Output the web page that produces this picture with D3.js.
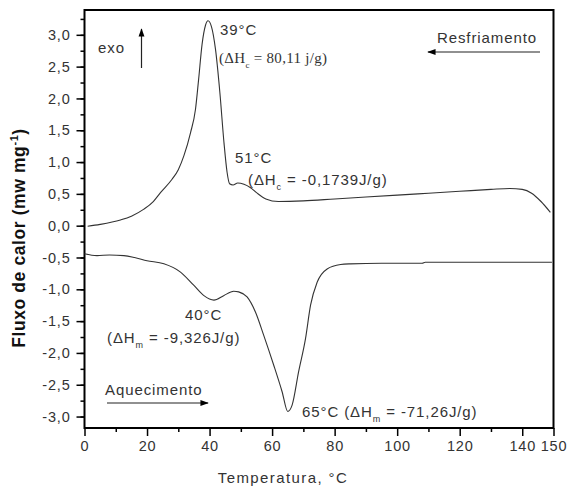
<!DOCTYPE html>
<html>
<head>
<meta charset="utf-8">
<script src="https://cdn.jsdelivr.net/npm/d3@7"></script>
<style>
  body { margin: 0; background: #fff; }
  svg { display: block; font-family: "Liberation Sans", Arial, sans-serif; }
  .tick text { font-size: 14.5px; fill: #333; }
  .ann { font-size: 15px; fill: #333; letter-spacing: 0.9px; }
  .serif { font-family: "Liberation Serif", "Times New Roman", serif; letter-spacing: 0.3px; }
</style>
</head>
<body>
<div id="chart"></div>
<script>
// Resfriamento (cooling) curve: temperature (°C), heat flow (mW/mg)
const coolT = [1, 5, 11.5, 15, 19, 22, 24.3, 28, 30, 31.8, 33.9, 35.5, 36.5, 37.6, 38.7, 39.5,
  40.6, 41.9, 43.3, 44.6, 45.6, 46.4, 47.5, 49, 51, 53, 55, 58, 62, 70, 80, 90, 100, 110, 120,
  130, 136, 140, 143, 146, 149];
const coolV = [-0.01, 0.02, 0.09, 0.15, 0.26, 0.38, 0.52, 0.73, 0.88, 1.10, 1.46, 1.83, 2.30, 2.85, 3.15, 3.22,
  3.13, 2.77, 2.09, 1.31, 0.84, 0.66, 0.64, 0.67, 0.65, 0.60, 0.52, 0.42, 0.38, 0.39, 0.42, 0.45, 0.48, 0.51, 0.54,
  0.57, 0.585, 0.57, 0.51, 0.38, 0.21];

// Aquecimento (heating) curve
const heatT = [0, 4, 8, 12.6, 16, 20, 25.4, 30.7, 35, 38.2, 41.4, 44.5, 47.7, 49.3, 52, 54.7, 57.3,
  60.5, 63.2, 65, 66.4, 68.5, 70.7, 72.3, 74.4, 77.6, 81.9, 85, 95, 108, 109, 120, 135, 149.5];
const heatV = [-0.44, -0.47, -0.46, -0.47, -0.50, -0.55, -0.60, -0.73, -0.94, -1.10, -1.17, -1.10, -1.03, -1.04, -1.12, -1.36, -1.72,
  -2.19, -2.61, -2.92, -2.82, -2.29, -1.77, -1.25, -0.89, -0.68, -0.61, -0.60, -0.59, -0.59, -0.575, -0.575, -0.575, -0.575];

const xTicks = [0, 20, 40, 60, 80, 100, 120, 140, 150];
const xMinor = [10, 30, 50, 70, 90, 110, 130];
const yTicks = [-3, -2.5, -2, -1.5, -1, -0.5, 0, 0.5, 1, 1.5, 2, 2.5, 3];
const yMinor = d3.range(-3, 3.3, 0.25);

const width = 573, height = 488;
const svg = d3.select("#chart").append("svg")
  .attr("width", width)
  .attr("height", height);

const x = d3.scaleLinear().domain([0, 150]).range([84.5, 553.5]);
const y = d3.scaleLinear().domain([-3.18, 3.39]).range([428, 10]);

const fmt = d => d3.format(".1f")(d).replace(".", ",").replace("−", "-");

// minor ticks
svg.append("g")
  .attr("transform", "translate(0,428)")
  .call(d3.axisBottom(x).tickValues(xMinor).tickSize(4).tickFormat(""))
  .call(g => g.select(".domain").remove())
  .selectAll("line").attr("stroke", "#000").attr("stroke-width", 1.5);

svg.append("g")
  .attr("transform", "translate(84.5,0)")
  .call(d3.axisLeft(y).tickValues(yMinor).tickSize(4).tickFormat(""))
  .call(g => g.select(".domain").remove())
  .selectAll("line").attr("stroke", "#000").attr("stroke-width", 1.5);

// major ticks + labels
svg.append("g")
  .attr("transform", "translate(0,428)")
  .call(d3.axisBottom(x).tickValues(xTicks).tickSize(8).tickPadding(5).tickFormat(d3.format("d")))
  .call(g => g.select(".domain").remove())
  .call(g => g.selectAll("line").attr("stroke", "#000").attr("stroke-width", 1.5));

svg.append("g")
  .attr("transform", "translate(84.5,0)")
  .call(d3.axisLeft(y).tickValues(yTicks).tickSize(8).tickPadding(6).tickFormat(fmt))
  .call(g => g.select(".domain").remove())
  .call(g => g.selectAll("line").attr("stroke", "#000").attr("stroke-width", 1.5));

svg.selectAll(".tick text").attr("fill", "#333").style("letter-spacing", "0.8px");

// frame
svg.append("rect")
  .attr("x", x(0)).attr("y", y(3.39))
  .attr("width", x(150) - x(0)).attr("height", y(-3.18) - y(3.39))
  .attr("fill", "none").attr("stroke", "#000").attr("stroke-width", 2);

// curves
const line = d3.line()
  .x(d => x(d[0]))
  .y(d => y(d[1]))
  .curve(d3.curveMonotoneX);

svg.append("path")
  .datum(d3.zip(coolT, coolV))
  .attr("d", line)
  .attr("fill", "none").attr("stroke", "#333").attr("stroke-width", 1.1);

svg.append("path")
  .datum(d3.zip(heatT, heatV))
  .attr("d", line)
  .attr("fill", "none").attr("stroke", "#333").attr("stroke-width", 1.1);

// axis titles
svg.append("text")
  .attr("x", 283).attr("y", 483)
  .attr("text-anchor", "middle")
  .attr("font-size", 15).attr("fill", "#333")
  .style("letter-spacing", "1.4px")
  .text("Temperatura, °C");

const yt = svg.append("text")
  .attr("transform", "translate(25,238) rotate(-90)")
  .attr("text-anchor", "middle")
  .attr("font-size", 17.5).attr("font-weight", "bold").attr("fill", "#111")
  .style("letter-spacing", "0.6px");
yt.append("tspan").text("Fluxo de calor (mw mg");
yt.append("tspan").attr("font-size", 11).attr("dy", -7).text("-1");
yt.append("tspan").attr("dy", 7).text(")");

// arrows
svg.append("defs").append("marker")
  .attr("id", "head").attr("viewBox", "0 0 10 10")
  .attr("refX", 9).attr("refY", 5)
  .attr("markerWidth", 7).attr("markerHeight", 7)
  .attr("orient", "auto")
  .append("path").attr("d", "M0,1.5 L10,5 L0,8.5 Z").attr("fill", "#000");

function arrow(x1, y1, x2, y2) {
  svg.append("line")
    .attr("x1", x1).attr("y1", y1).attr("x2", x2).attr("y2", y2)
    .attr("stroke", "#222").attr("stroke-width", 1.2)
    .attr("marker-end", "url(#head)");
}
arrow(141.5, 68, 141.5, 29);
arrow(540, 52, 428, 52);
arrow(107, 403, 208, 403);

function ann(px, py, txt, cls) {
  return svg.append("text").attr("class", "ann" + (cls ? " " + cls : ""))
    .attr("x", px).attr("y", py).text(txt);
}

// subscripted enthalpy label
function dh(px, py, sub, rest, serif) {
  const t = svg.append("text").attr("class", "ann" + (serif ? " serif" : ""))
    .attr("x", px).attr("y", py);
  t.append("tspan").text("(ΔH");
  t.append("tspan").attr("font-size", 9).attr("dy", 5).text(sub);
  t.append("tspan").attr("dy", -5).text(" " + rest);
  return t;
}

ann(98, 53, "exo");
ann(437, 43, "Resfriamento");
ann(220, 35, "39°C");
dh(219, 63, "c", "= 80,11 j/g)", true);
ann(235, 163, "51°C");
dh(248, 185, "c", "= -0,1739J/g)");
ann(185, 320, "40°C");
dh(107, 343, "m", "= -9,326J/g)");
ann(105, 395, "Aquecimento");
const t65 = ann(302, 417, "65°C ");
t65.append("tspan").text("(ΔH");
t65.append("tspan").attr("font-size", 9).attr("dy", 5).text("m");
t65.append("tspan").attr("dy", -5).text(" = -71,26J/g)");
</script>
</body>
</html>
